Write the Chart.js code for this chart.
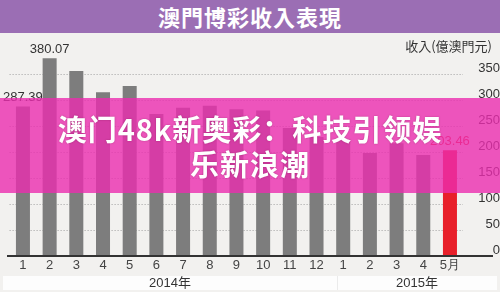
<!DOCTYPE html>
<html><head><meta charset="utf-8">
<script src="https://cdn.jsdelivr.net/npm/chart.js@4.4.1/dist/chart.umd.min.js"></script>
<style>
html,body{margin:0;padding:0;background:#f2f1ef;width:500px;height:292px;overflow:hidden;}
#wrap{position:relative;width:500px;height:292px;}
#hdr{position:absolute;left:0;top:0;width:500px;height:33px;background:#9b6eb4;color:#fff;font:700 22px "Noto Sans CJK TC";text-align:center;line-height:33px;letter-spacing:1px;}
canvas{position:absolute;left:0;top:0;}
#banner{position:absolute;left:0;top:98px;width:500px;height:95px;background:rgba(235,45,175,0.8);color:#fff;font:700 29px "Noto Sans CJK SC";text-align:center;line-height:35px;padding-top:13px;box-sizing:border-box;letter-spacing:1px;text-shadow:0 0 2px rgba(80,0,40,0.35);}
</style></head>
<body><div id="wrap">
<div id="hdr">澳門博彩收入表現</div>
<canvas id="c" width="500" height="292"></canvas>
<div id="banner">澳门48k新奥彩：科技引领娱<br>乐新浪潮</div>
</div>
<script>
const months = ['1','2','3','4','5','6','7','8','9','10','11','12','1','2','3','4','5月'];
const revenue = [287.39,380.07,356,315,327,273,285,289,282,280,246,229,224,198,217,194,203.46];
const labeledIdx = [0,1,16];
const yearLabels = ['2014年','2015年'];
const unitLabel = '收入(億澳門元)';
const yTicks = [0,50,100,150,200,250,300,350,400];

const GRAY = '#7d7d7d', RED = '#e8202a';

const deco = {
  id:'deco',
  beforeDraw(chart){
    const ctx = chart.ctx;
    ctx.save();
    ctx.fillStyle = '#fdfdfd';
    ctx.fillRect(3,276,494,14);
    ctx.fillStyle = '#ebebeb';
    ctx.fillRect(337,276,1,14);
    ctx.restore();
  },
  afterDatasetsDraw(chart){
    const ctx = chart.ctx, ys = chart.scales.y;
    const meta = chart.getDatasetMeta(0);
    ctx.save();
    ctx.strokeStyle = '#333';
    ctx.lineWidth = 2;
    const y0 = Math.round(ys.getPixelForValue(0));
    ctx.beginPath(); ctx.moveTo(7,y0); ctx.lineTo(493,y0); ctx.stroke();
    ctx.font = '13px "Liberation Sans"';
    ctx.textAlign = 'center'; ctx.textBaseline = 'middle';
    labeledIdx.forEach(i=>{
      const el = meta.data[i];
      ctx.fillStyle = i === revenue.length-1 ? RED : '#333';
      ctx.fillText(revenue[i].toFixed(2), el.x, el.y - 9);
    });
    ctx.font = '13px "Noto Sans CJK TC"';
    ctx.textAlign = 'right'; ctx.fillStyle = '#333';
    ctx.fillText(unitLabel, 492, 46);
    ctx.font = '13px "Liberation Sans", "Noto Sans CJK TC"';
    ctx.textAlign = 'center'; ctx.fillStyle = '#333';
    ctx.fillText(yearLabels[0], 170, 283);
    ctx.fillText(yearLabels[1], 417, 283);
    ctx.restore();
  }
};

new Chart(document.getElementById('c'), {
  type:'bar',
  data:{labels:months, datasets:[{data:revenue, backgroundColor:revenue.map((v,i)=> i===revenue.length-1?RED:GRAY), barPercentage:0.525, categoryPercentage:1}]},
  options:{
    responsive:false, animation:false,
    layout:{padding:{top:48,left:9.6,right:0,bottom:0}},
    plugins:{legend:{display:false}, tooltip:{enabled:false}},
    scales:{
      x:{grid:{display:false,drawTicks:false}, border:{display:false},
         ticks:{color:'#444', font:{size:13,family:'Liberation Sans'}, padding:2, maxRotation:0, autoSkip:false},
         afterFit:s=>{s.height=36;}},
      y:{position:'right', min:0, max:400,
         afterBuildTicks:s=>{s.ticks = yTicks.map(v=>({value:v}));},
         ticks:{color:'#333', font:{size:13,family:'Liberation Sans'}, padding:8, crossAlign:'far', labelOffset:-6,
                callback:v=> v===400?'':String(v)},
         grid:{drawTicks:false, color:c=> (c.tick && (c.tick.value===0||c.tick.value===400))?'rgba(0,0,0,0)':'#a0a0a0', lineWidth:1},
         border:{display:false, dash:[1,2]},
         afterFit:s=>{s.width=36.7;}}
    }
  },
  plugins:[deco]
});
</script>
</body></html>
